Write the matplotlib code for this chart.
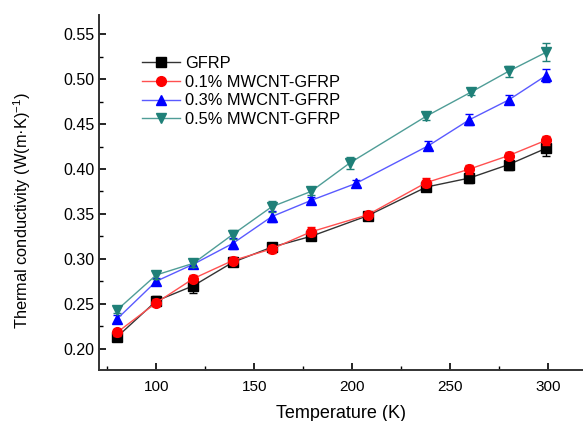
import numpy as np
import matplotlib
matplotlib.use("Agg")
import matplotlib.pyplot as plt
from matplotlib.ticker import MultipleLocator
from matplotlib.lines import Line2D

plt.rcParams['font.family'] = ['Liberation Sans', 'DejaVu Sans']
plt.rcParams['mathtext.fontset'] = 'custom'
plt.rcParams['mathtext.rm'] = 'Liberation Sans'
plt.rcParams['mathtext.it'] = 'Liberation Sans:italic'

# temperatures (K)
t_gfrp = [80, 100, 119, 139, 159, 179, 208, 238, 260, 280, 299]
t_01 = [80, 100, 119, 139, 159, 179, 208, 238, 260, 280, 299]
t_03 = [80, 100, 119, 139, 159, 179, 202, 239, 260, 280, 299]
t_05 = [80, 100, 119, 139, 159, 179, 199, 238, 261, 280, 299]

# thermal conductivity W/(m.K)
k_gfrp = [0.213, 0.253, 0.270, 0.296, 0.313, 0.325, 0.348, 0.380, 0.390, 0.405, 0.423]
k_01 = [0.218, 0.251, 0.278, 0.298, 0.311, 0.330, 0.349, 0.385, 0.400, 0.415, 0.432]
k_03 = [0.233, 0.275, 0.294, 0.317, 0.347, 0.365, 0.384, 0.426, 0.455, 0.477, 0.504]
k_05 = [0.243, 0.282, 0.295, 0.327, 0.358, 0.375, 0.407, 0.459, 0.486, 0.509, 0.530]

# error bars
e_gfrp = [0.004, 0.005, 0.008, 0.004, 0.004, 0.004, 0.003, 0.004, 0.005, 0.006, 0.008]
e_01 = [0.004, 0.004, 0.004, 0.004, 0.004, 0.005, 0.003, 0.005, 0.005, 0.004, 0.005]
e_03 = [0.004, 0.004, 0.004, 0.006, 0.006, 0.004, 0.004, 0.005, 0.006, 0.005, 0.007]
e_05 = [0.003, 0.004, 0.004, 0.005, 0.006, 0.004, 0.007, 0.004, 0.004, 0.006, 0.010]

labels = ['GFRP', '0.1% MWCNT-GFRP', '0.3% MWCNT-GFRP', '0.5% MWCNT-GFRP']

fig = plt.figure(figsize=(5.83, 4.21), dpi=100)
ax = fig.add_axes([0.169, 0.121, 0.831, 0.844])

# (x, y, err, marker colour, line colour, marker)
series = [
    (t_gfrp, k_gfrp, e_gfrp, 'black', '#333333', 's'),
    (t_01, k_01, e_01, 'red', '#ff5050', 'o'),
    (t_03, k_03, e_03, 'blue', '#5a5aff', '^'),
    (t_05, k_05, e_05, '#1f8078', '#4f9d97', 'v'),
]
handles = []
for (t, k, e, c, lc, m), lab in zip(series, labels):
    ax.errorbar(t, k, yerr=e, fmt='none', ecolor=c, elinewidth=1, capsize=3)
    ax.plot(t, k, color=lc, linewidth=1)
    ax.plot(t, k, linestyle='none', marker=m, markersize=7, color=c)
    handles.append(Line2D([], [], color=lc, linewidth=1, marker=m, markersize=7,
                          markerfacecolor=c, markeredgecolor=c, label=lab))

ax.set_xlim(70.5, 318)
ax.set_ylim(0.176, 0.572)
ax.xaxis.set_major_locator(MultipleLocator(50))
ax.xaxis.set_minor_locator(MultipleLocator(25))
ax.yaxis.set_major_locator(MultipleLocator(0.05))
ax.yaxis.set_minor_locator(MultipleLocator(0.025))
ax.yaxis.set_major_formatter(plt.FormatStrFormatter('%.2f'))

for s in ['top', 'right']:
    ax.spines[s].set_visible(False)
for s in ['left', 'bottom']:
    ax.spines[s].set_linewidth(1.4)
    ax.spines[s].set_color('#333333')
ax.tick_params(which='major', direction='in', length=5, width=1.2)
ax.tick_params(which='minor', direction='in', length=3, width=1.0)
ax.tick_params(axis='x', labelsize=11, pad=7)
ax.tick_params(axis='y', labelsize=11.5, pad=3)

ax.set_xlabel('Temperature (K)', fontsize=13, labelpad=8)
ax.set_ylabel('Thermal conductivity (W(m\u00b7K)$^{-1}$)', fontsize=11.8)
ax.yaxis.set_label_coords(-0.135, 0.45)

ax.legend(handles=handles, loc='upper left', bbox_to_anchor=(0.06, 0.925), frameon=False,
          fontsize=11.8, handlelength=2.3, handletextpad=0.3, labelspacing=0.22)

fig.savefig('out.png', dpi=100)
